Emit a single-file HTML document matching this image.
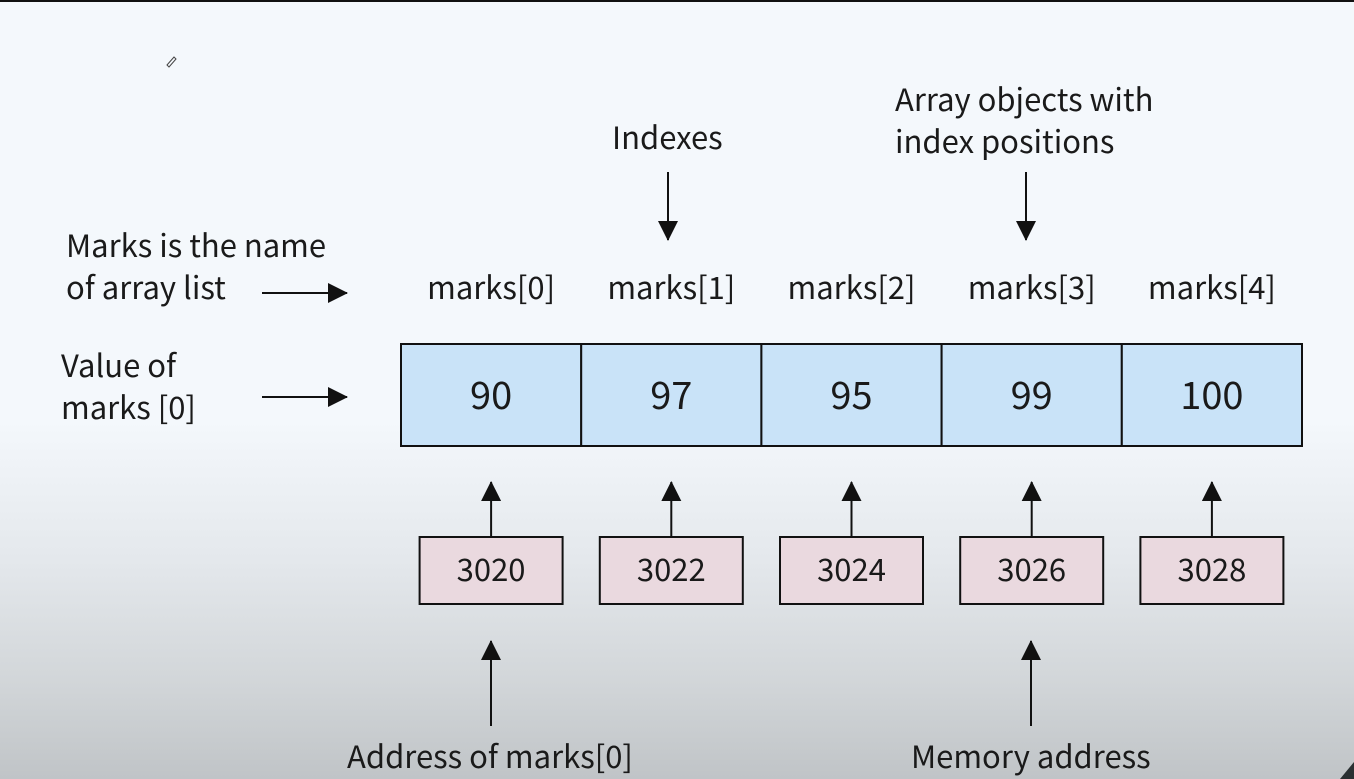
<!DOCTYPE html>
<html><head><meta charset="utf-8"><style>
html,body{margin:0;padding:0;width:1354px;height:779px;overflow:hidden}
body{background:linear-gradient(180deg,#f4f8fc 0px,#f4f8fc 420px,#e4e8ec 560px,#d2d6d9 680px,#c0c4c7 779px)}
svg{position:absolute;left:0;top:0}
text{font-family:"Noto Sans CJK JP","Liberation Sans",sans-serif;fill:#1a1a1a}
</style></head><body>
<svg width="1354" height="779">
<defs>
<marker id="ah" viewBox="0 0 20 20" refX="19" refY="10" markerWidth="20" markerHeight="20" markerUnits="userSpaceOnUse" orient="auto"><path d="M0,0 L20,10 L0,20z" fill="#111"/></marker>
</defs>
<rect x="0" y="0" width="1354" height="2" fill="#111"/>
<path d="M1340,779 L1354,762 L1354,779z" fill="#2a3032"/>
<path d="M167,65 L174,57 L176,59 L169,67z" fill="none" stroke="#444" stroke-width="1"/>
<g id="labels" font-size="31">
<text x="612" y="149">Indexes</text>
<text x="895" y="111">Array objects with</text>
<text x="895" y="153">index positions</text>
<text x="66" y="257">Marks is the name</text>
<text x="66" y="299">of array list</text>
<text x="61" y="377">Value of</text>
<text x="61" y="419">marks [0]</text>
<text x="347" y="768">Address of marks[0]</text>
<text x="911" y="768">Memory address</text>
</g>
<g stroke="#111" stroke-width="2" fill="none">
<line x1="668" y1="172" x2="668" y2="240" marker-end="url(#ah)"/>
<line x1="1026" y1="172" x2="1026" y2="240" marker-end="url(#ah)"/>
<line x1="262" y1="293" x2="347" y2="293" marker-end="url(#ah)"/>
<line x1="262" y1="397" x2="347" y2="397" marker-end="url(#ah)"/>
<line x1="491" y1="726" x2="491" y2="641" marker-end="url(#ah)"/>
<line x1="1031" y1="726" x2="1031" y2="641" marker-end="url(#ah)"/>
</g>
<g id="cells"></g>
</svg>
<script>
const indexLabels=["marks[0]","marks[1]","marks[2]","marks[3]","marks[4]"];
const values=[90,97,95,99,100];
const addresses=[3020,3022,3024,3026,3028];
const NS="http://www.w3.org/2000/svg";
const g=document.getElementById("cells");
function mk(t,a){const e=document.createElementNS(NS,t);for(const k in a)e.setAttribute(k,a[k]);g.appendChild(e);return e;}
const x0=401,w=180.2;
values.forEach((v,i)=>{
  const cx=x0+w*i+w/2;
  const r=mk("rect",{x:x0+w*i,y:344,width:w,height:102,fill:"#c9e3f8",stroke:"#111","stroke-width":2});
  
  
  const t=mk("text",{x:cx,y:409,"text-anchor":"middle","font-size":38});t.textContent=v;
  
  
  const il=mk("text",{x:cx,y:299,"text-anchor":"middle","font-size":31});il.textContent=indexLabels[i];
  
  
  const ar=mk("line",{x1:cx,y1:536,x2:cx,y2:482,stroke:"#111","stroke-width":2,"marker-end":"url(#ah)"});
  
  
  const b=mk("rect",{x:cx-71.5,y:537,width:143,height:67,fill:"#ead9df",stroke:"#111","stroke-width":2});
  
  
  const at=mk("text",{x:cx,y:581,"text-anchor":"middle","font-size":31});at.textContent=addresses[i];
  
  
});
</script>
</body></html>
